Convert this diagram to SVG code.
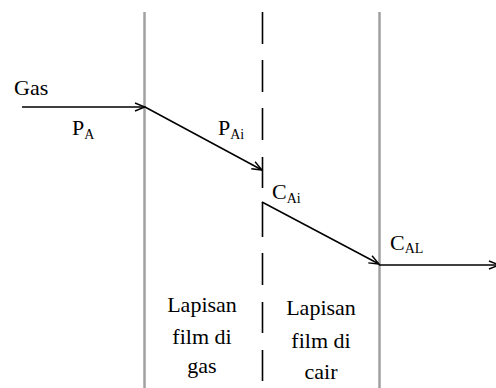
<svg xmlns="http://www.w3.org/2000/svg" width="496" height="388" viewBox="0 0 496 388">
<style>
.t{font-family:"Liberation Serif","Times New Roman",serif;font-size:22px;fill:#000}
.s{font-size:14px}
.c{text-anchor:middle}
.wall{stroke:#a0a0a0;stroke-width:2.5;fill:none}
.arr{stroke:#000;stroke-width:1.5;fill:none;marker-end:url(#ah)}
.dash{stroke:#000;stroke-width:1.6;fill:none}
</style>
<defs>
<marker id="ah" viewBox="0 0 12 10" refX="11" refY="5" markerWidth="12" markerHeight="10" markerUnits="userSpaceOnUse" orient="auto">
<path d="M1,1 L11,5 L1,9" fill="none" stroke="#000" stroke-width="1.4"/>
</marker>
</defs>
<rect width="496" height="388" fill="#fff"/>
<g id="walls">
<line class="wall" x1="144.5" y1="12" x2="144.5" y2="388"/>
<line class="wall" x1="379.5" y1="12" x2="379.5" y2="388"/>
</g>
<g id="interface">
<path class="dash" d="M262.5,12V44M262.5,60V92M262.5,108V140M262.5,157V188M262.5,202V237M262.5,253V285M262.5,302V333M262.5,350V381"/>
</g>
<g id="connectors">
<line class="arr" x1="22" y1="107" x2="145" y2="107"/>
<line class="arr" x1="145" y1="107" x2="262" y2="170"/>
<line class="arr" x1="262" y1="202" x2="379" y2="264"/>
<line class="arr" x1="379" y1="265" x2="499" y2="265"/>
</g>
<g id="gas-label"><text class="t" x="14" y="95">Gas</text></g>
<g id="pa-label"><text class="t" x="72" y="135">P<tspan class="s" dy="4">A</tspan></text></g>
<g id="pai-label"><text class="t" x="218" y="135">P<tspan class="s" dy="4">Ai</tspan></text></g>
<g id="cai-label"><text class="t" x="272" y="199">C<tspan class="s" dy="4">Ai</tspan></text></g>
<g id="cal-label"><text class="t" x="390" y="250">C<tspan class="s" dy="3">AL</tspan></text></g>
<g id="gas-film">
<text class="t c" x="202" y="312">Lapisan</text>
<text class="t c" x="202" y="344">film di</text>
<text class="t c" x="202" y="373">gas</text>
</g>
<g id="liquid-film">
<text class="t c" x="321" y="315">Lapisan</text>
<text class="t c" x="321" y="348">film di</text>
<text class="t c" x="321" y="379">cair</text>
</g>
</svg>
